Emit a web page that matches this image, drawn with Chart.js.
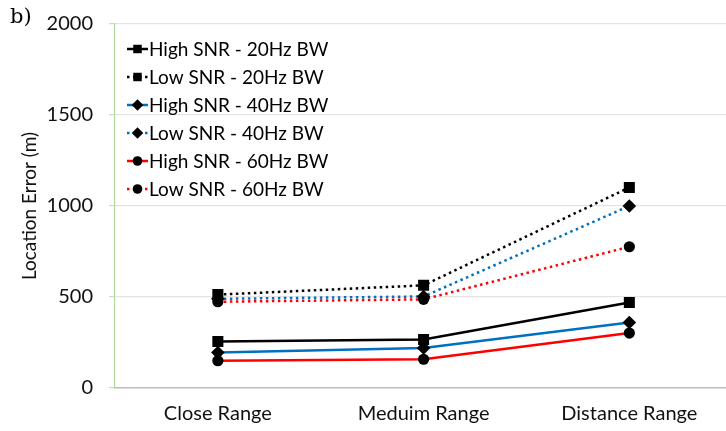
<!DOCTYPE html>
<html>
<head>
<meta charset="utf-8">
<script src="https://cdn.jsdelivr.net/npm/chart.js@4"></script>
<style>
  body { margin: 0; background: #fff; overflow: hidden; }
  #wrap { position: relative; top: -4px; width: 740px; height: 435px; }
  #tag { position: absolute; left: 10px; top: 8px; font: 21px "DejaVu Serif", "Liberation Serif", serif; color: #000; }
</style>
</head>
<body>
<div id="wrap">
  <canvas id="errChart"></canvas>
  <div id="tag">b)</div>
</div>
<script>
// Data
const categories = ['Close Range', 'Meduim Range', 'Distance Range'];
const high20 = [256, 267, 470];
const low20 = [513, 564, 1102];
const high40 = [195, 220, 360];
const low40 = [490, 503, 1000];
const high60 = [150, 158, 302];
const low60 = [474, 487, 776];
const yTicks = [0, 500, 1000, 1500, 2000];

const seriesNames = [
    'High SNR - 20Hz BW', 'Low SNR - 20Hz BW',
    'High SNR - 40Hz BW', 'Low SNR - 40Hz BW',
    'High SNR - 60Hz BW', 'Low SNR - 60Hz BW'
];

const markerRadius = { rect: 7.8, rectRot: 6.8, circle: 5.6 };
const legendRadius = { rect: 6, rectRot: 5.8, circle: 4.8 };

function makeSet(label, data, color, style, dotted) {
    return {
        label: label,
        data: data,
        borderColor: color,
        backgroundColor: '#000',
        pointBackgroundColor: '#000',
        pointBorderColor: '#000',
        pointBorderWidth: 0,
        pointStyle: style,
        pointRadius: markerRadius[style],
        borderWidth: 2.5,
        borderDash: dotted ? [2.5, 3.5] : [],
        tension: 0
    };
}

// Legend drawn inside the plot area, top-left
const insideLegend = {
    id: 'insideLegend',
    afterDraw(chart) {
        const ctx = chart.ctx;
        const area = chart.chartArea;
        ctx.save();
        chart.data.datasets.forEach((ds, i) => {
            const y = area.top + 25 + i * 28;
            const x0 = area.left + 12;
            ctx.strokeStyle = ds.borderColor;
            ctx.lineWidth = 2.5;
            ctx.setLineDash(ds.borderDash);
            ctx.beginPath();
            ctx.moveTo(x0, y);
            ctx.lineTo(x0 + 21, y);
            ctx.stroke();
            ctx.setLineDash([]);
            ctx.fillStyle = '#000';
            Chart.helpers.drawPoint(ctx, {
                pointStyle: ds.pointStyle,
                radius: legendRadius[ds.pointStyle],
                borderWidth: 0
            }, x0 + 10.5, y);
            ctx.fillStyle = '#000';
            ctx.font = '19px Lato';
            ctx.textBaseline = 'middle';
            ctx.fillText(ds.label, x0 + 22, y + 1);
        });
        ctx.restore();
    }
};

document.addEventListener('DOMContentLoaded', function() {
    const ctx = document.getElementById('errChart').getContext('2d');
    new Chart(ctx, {
        type: 'line',
        data: {
            labels: categories,
            datasets: [
                makeSet(seriesNames[0], high20, '#000000', 'rect', false),
                makeSet(seriesNames[1], low20, '#000000', 'rect', true),
                makeSet(seriesNames[2], high40, '#0070c0', 'rectRot', false),
                makeSet(seriesNames[3], low40, '#0070c0', 'rectRot', true),
                makeSet(seriesNames[4], high60, '#ff0000', 'circle', false),
                makeSet(seriesNames[5], low60, '#ff0000', 'circle', true)
            ]
        },
        options: {
            responsive: true,
            maintainAspectRatio: false,
            animation: false,
            layout: { padding: { top: 11, left: 0, right: 0, bottom: 0 } },
            plugins: {
                legend: { display: false },
                tooltip: { enabled: false }
            },
            scales: {
                x: {
                    offset: true,
                    grid: { display: false, drawTicks: false },
                    border: { color: '#bfbfbf', width: 1.5 },
                    ticks: { color: '#111', font: { family: 'Lato', size: 20 }, padding: 14 },
                    afterFit(scale) { scale.height = 43; }
                },
                y: {
                    min: 0,
                    max: 2000,
                    afterBuildTicks(scale) { scale.ticks = yTicks.map(v => ({ value: v })); },
                    grid: { color: '#e4e4e4', lineWidth: 1.2, drawTicks: true, tickLength: 6, tickColor: '#c5e0b4' },
                    border: { color: '#b5d99c', width: 1.2 },
                    ticks: {
                        color: '#111',
                        font: { family: 'Lato', size: 20 },
                        padding: 16,
                        callback: (v) => String(v)
                    },
                    title: {
                        display: true,
                        text: 'Location Error (m)',
                        color: '#111',
                        font: { family: 'Lato', size: 19 },
                        padding: { top: 18, bottom: 0 }
                    },
                    afterFit(scale) { scale.width = 115; }
                }
            }
        },
        plugins: [insideLegend]
    });
});
</script>
</body>
</html>
